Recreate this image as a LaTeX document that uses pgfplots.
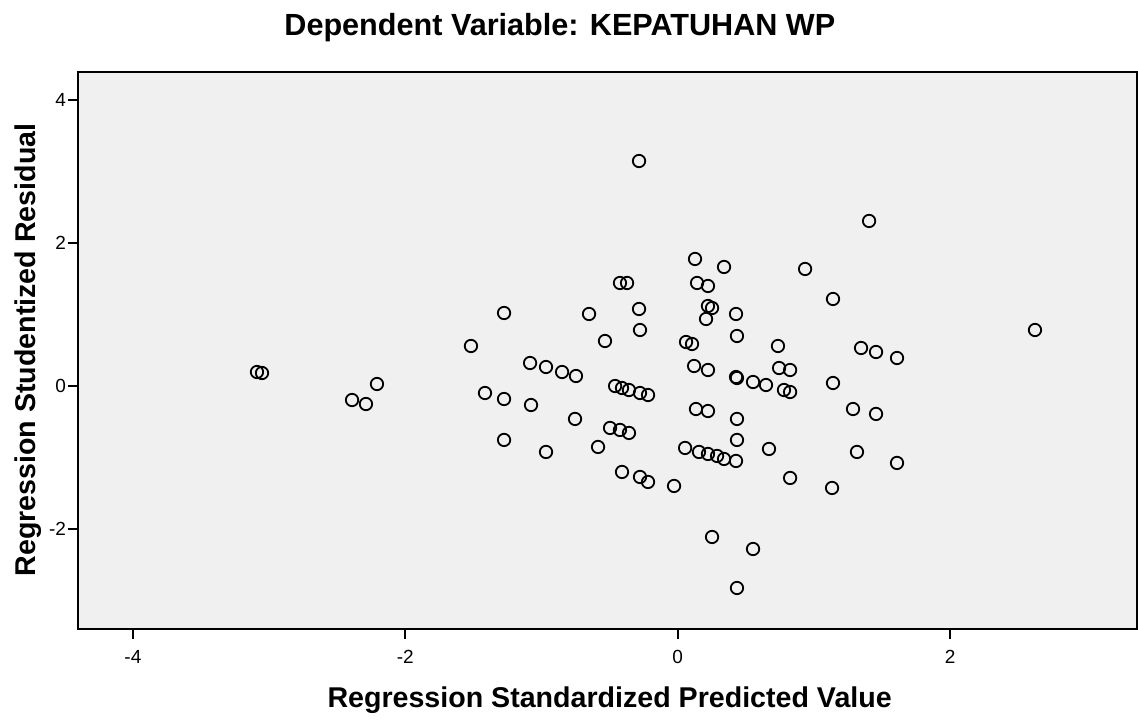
\documentclass[border=0pt]{standalone}
\usepackage{pgfplots}
\pgfplotsset{compat=1.18}
\usepackage{fontspec}
\setmainfont{Liberation Sans}
\definecolor{bgc}{HTML}{F0F0F0}
\begin{document}
\begin{tikzpicture}
\begin{axis}[
  at={(0,0)}, anchor=south west,
  scale only axis,
  width=529.5pt, height=278.5pt,
  xmin=-4.403, xmax=3.372,
  ymin=-3.400, ymax=4.396,
  xtick={-4,-2,0,2}, ytick={-2,0,2,4},
  xticklabels={-4,-2,0,2}, yticklabels={-2,0,2,4},
  tick align=outside, xtick pos=bottom, ytick pos=left,
  major tick length=5pt,
  every tick/.style={draw=black, line width=1pt},
  xtick style={draw=black, line width=1pt},
  ytick style={draw=black, line width=1pt},
  axis line style={line width=1pt},
  axis background/.style={fill=bgc},
  ticklabel style={font=\fontsize{9.5}{10}\selectfont},
  xticklabel style={anchor=center, yshift=-9pt},
  yticklabel style={anchor=east, xshift=2.5pt},
  xlabel={\textbf{Regression Standardized Predicted Value}},
  ylabel={\textbf{Regression Studentized Residual}},
  xlabel style={font=\fontsize{14.3}{16}\selectfont, at={(axis description cs:0.502,0)}, anchor=center, yshift=-35.5pt},
  ylabel style={font=\fontsize{14.3}{16}\selectfont, at={(axis description cs:0,0.501)}, anchor=center, xshift=0pt, yshift=25pt},
  title={\textbf{Dependent Variable: KEPATUHAN WP}},
  title style={font=\fontsize{15.3}{17}\selectfont, at={(axis description cs:0.455,1)}, anchor=center, yshift=16pt},
  clip=false,
]
\addplot[only marks, mark=o, mark size=3.1pt, mark options={line width=0.9pt, black}] table {
x y
-0.284 3.150
1.405 2.311
2.623 0.785
0.127 1.779
0.340 1.667
0.935 1.639
-0.424 1.443
-0.372 1.443
0.142 1.443
0.222 1.401
1.140 1.219
-1.275 1.023
-0.651 1.009
-0.284 1.079
0.222 1.121
0.252 1.093
0.208 0.939
0.428 1.009
-0.277 0.785
0.435 0.701
-1.518 0.561
-0.534 0.631
0.061 0.617
0.105 0.589
0.736 0.561
1.346 0.533
1.456 0.477
1.610 0.393
-1.084 0.323
-0.967 0.267
-0.849 0.197
-0.747 0.141
0.120 0.281
0.222 0.225
0.744 0.253
0.825 0.225
0.428 0.127
0.435 0.113
0.553 0.057
0.648 0.015
1.140 0.043
0.780 -0.055
0.825 -0.083
-3.089 0.197
-3.052 0.183
-2.208 0.029
-2.391 -0.195
-2.289 -0.251
-1.415 -0.097
-1.275 -0.181
-1.077 -0.265
-0.460 0.001
-0.409 -0.027
-0.358 -0.055
-0.277 -0.097
-0.218 -0.125
0.134 -0.321
0.222 -0.349
1.287 -0.321
1.456 -0.390
0.435 -0.460
-0.754 -0.460
-0.497 -0.586
-0.424 -0.614
-0.358 -0.656
-1.275 -0.754
-0.967 -0.922
-0.585 -0.852
0.435 -0.754
0.054 -0.866
0.156 -0.922
0.222 -0.950
0.289 -0.978
0.340 -1.020
0.428 -1.048
0.670 -0.880
1.316 -0.922
1.610 -1.076
-0.409 -1.202
-0.277 -1.272
-0.218 -1.342
-0.027 -1.398
0.825 -1.286
1.133 -1.426
0.252 -2.112
0.553 -2.280
0.435 -2.826
};
\end{axis}
\pgfresetboundingbox
\path (-39pt,-46.5pt) rectangle (530pt,314.5pt);
\end{tikzpicture}
\end{document}
